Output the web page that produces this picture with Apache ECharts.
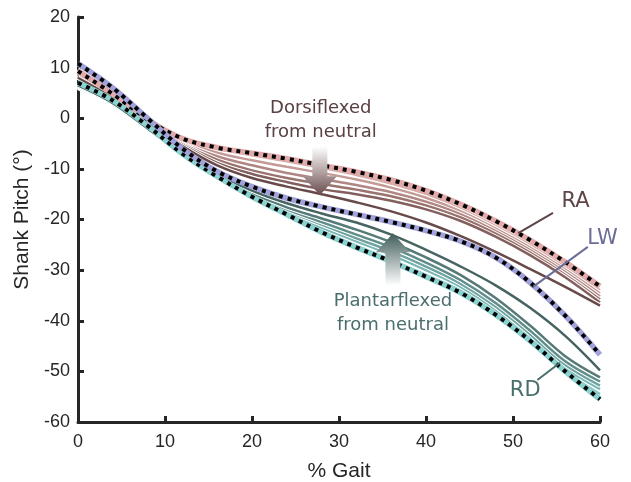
<!DOCTYPE html>
<html>
<head>
<meta charset="utf-8">
<script src="https://cdn.jsdelivr.net/npm/echarts@6/dist/echarts.min.js"></script>
<style>
  html, body { margin: 0; padding: 0; background: #fff; }
  #chart { width: 631px; height: 482px; }
</style>
</head>
<body>
<div id="chart"></div>
<script>
// % gait samples
var gait = [0, 4, 8, 12, 16, 20, 24, 28, 32, 36, 40, 44, 48, 52, 56, 60];

// mean curves (dotted)
var raMean = [9.3, 4.8, -0.3, -4.0, -5.8, -6.9, -8.0, -9.3, -10.6, -12.2, -14.3, -17.0, -20.3, -24.1, -28.4, -33.2];
var lwMean = [10.8, 6.0, 0.0, -6.0, -10.5, -13.5, -15.8, -17.5, -19.0, -20.5, -22.2, -24.3, -27.5, -32.5, -39.0, -46.7];
var rdMean = [7.0, 3.5, -1.5, -7.0, -11.5, -15.5, -19.0, -22.5, -25.5, -28.3, -31.3, -34.5, -38.8, -44.0, -50.0, -55.5];

// ramp ascent trials (light -> dark)
var ra1 = [9.6, 5.0, -0.4, -4.2, -6.0, -7.3, -8.5, -9.8, -11.2, -12.9, -15.0, -17.9, -21.3, -25.1, -29.4, -34.0];
var ra2 = [9.2, 4.8, -0.5, -4.5, -6.8, -8.3, -9.6, -10.8, -12.1, -13.7, -15.7, -18.4, -21.8, -25.6, -29.9, -34.6];
var ra3 = [8.9, 4.6, -0.6, -4.8, -7.5, -9.3, -10.8, -12.0, -13.2, -14.6, -16.5, -19.0, -22.3, -26.1, -30.4, -35.2];
var ra4 = [8.6, 4.4, -0.7, -5.0, -8.2, -10.3, -11.8, -13.0, -14.1, -15.4, -17.2, -19.6, -22.8, -26.6, -30.9, -35.8];
var ra5 = [8.3, 4.2, -0.8, -5.2, -8.8, -11.0, -12.6, -14.0, -15.0, -16.3, -18.0, -20.3, -23.4, -27.1, -31.4, -36.4];
var ra6 = [8.0, 4.0, -0.9, -5.5, -9.3, -11.8, -13.5, -15.0, -16.6, -18.4, -20.6, -23.3, -26.4, -29.8, -33.3, -37.0];

// ramp descent trials (dark -> light)
var rd1 = [6.5, 3.0, -2.0, -7.0, -11.0, -14.3, -16.8, -18.8, -20.6, -23.0, -26.0, -29.3, -33.0, -37.5, -43.0, -49.8];
var rd2 = [6.8, 3.2, -2.0, -7.2, -11.3, -14.8, -17.6, -19.8, -22.0, -24.5, -27.5, -31.0, -35.5, -41.0, -47.0, -51.2];
var rd3 = [6.3, 2.9, -2.1, -7.3, -11.4, -15.0, -18.0, -20.5, -23.0, -25.5, -28.5, -32.0, -36.5, -42.0, -48.0, -52.0];
var rd4 = [6.6, 3.1, -2.1, -7.4, -11.5, -15.2, -18.3, -21.0, -23.7, -26.3, -29.3, -32.7, -37.2, -42.7, -48.7, -52.8];
var rd5 = [6.2, 2.8, -2.2, -7.5, -11.6, -15.3, -18.6, -21.6, -24.3, -27.0, -30.0, -33.3, -37.8, -43.3, -49.3, -53.5];
var rd6 = [6.0, 2.7, -2.3, -7.6, -11.8, -15.5, -18.9, -22.2, -25.2, -28.0, -31.0, -34.0, -38.6, -43.8, -49.8, -54.5];

var yTicks = [-60, -50, -40, -30, -20, -10, 0, 10, 20];

// leader lines for the labels
var raLeader = [[50.6, -22.7], [54.6, -18.7]];
var lwLeader = [[52.3, -33.3], [58.6, -25.4]];
var rdLeader = [[52.8, -51.7], [55.4, -48.3]];

var raColors = ['#d7aaa6', '#c49a96', '#b08784', '#9a736f', '#83605d', '#694a4a'];
var rdColors = ['#466462', '#567a78', '#5f8d8a', '#6ea3a0', '#7ab6b3', '#8cc8c5'];

var chart = echarts.init(document.getElementById('chart'));

function pairs(ys) {
    return gait.map(function (x, i) { return [x, ys[i]]; });
}

var series = [];

function solid(ys, color) {
    series.push({
        type: 'line', data: pairs(ys), smooth: 0.35, symbol: 'none', silent: true,
        lineStyle: { color: '#ffffff', width: 4.5 }
    });
    series.push({
        type: 'line', data: pairs(ys), smooth: 0.35, symbol: 'none', silent: true,
        lineStyle: { color: color, width: 2.5 }
    });
}

function dotted(ys, color) {
    series.push({
        type: 'line', data: pairs(ys), smooth: 0.35, symbol: 'none', silent: true,
        lineStyle: { color: color, width: 5.5 }
    });
    series.push({
        type: 'line', data: pairs(ys), smooth: 0.35, symbol: 'none', silent: true,
        lineStyle: { color: '#000000', width: 4, type: [4, 5], cap: 'butt' }
    });
}

function leader(pts, color) {
    series.push({
        type: 'line', data: pts, symbol: 'none', silent: true,
        lineStyle: { color: color, width: 2 }
    });
}

[ra1, ra2, ra3, ra4, ra5, ra6].forEach(function (d, i) { solid(d, raColors[i]); });
[rd6, rd5, rd4, rd3, rd2, rd1].forEach(function (d, i) { solid(d, rdColors[5 - i]); });
dotted(raMean, '#e2aaaa');
dotted(rdMean, '#8ad2d0');
dotted(lwMean, '#a2a2da');
leader(raLeader, '#5e4444');
leader(lwLeader, '#6c6c98');
leader(rdLeader, '#4a6e6c');

var sans = '"Liberation Sans", Arial, sans-serif';
var tickFont = { color: '#262626', fontSize: 18, fontFamily: sans };
var nameFont = { color: '#262626', fontSize: 21, fontFamily: sans };

chart.setOption({
    animation: false,
    grid: { left: 78, right: 31, top: 17, bottom: 60, containLabel: false, outerBoundsMode: 'none' },
    xAxis: {
        type: 'value', min: 0, max: 60, interval: 10,
        name: '% Gait', nameLocation: 'middle', nameGap: 39,
        nameTextStyle: nameFont,
        axisLine: { onZero: false, lineStyle: { color: '#262626', width: 3 } },
        axisTick: { inside: true, length: 6, lineStyle: { color: '#262626', width: 3 } },
        axisLabel: Object.assign({ margin: 11 }, tickFont),
        splitLine: { show: false }
    },
    yAxis: {
        type: 'value', min: yTicks[0], max: yTicks[yTicks.length - 1], interval: 10,
        name: 'Shank Pitch (°)', nameLocation: 'middle', nameGap: 44,
        nameTextStyle: nameFont,
        axisLine: { show: true, onZero: false, lineStyle: { color: '#262626', width: 3 } },
        axisTick: { show: true, inside: true, length: 6, lineStyle: { color: '#262626', width: 3 } },
        axisLabel: Object.assign({ margin: 8 }, tickFont),
        splitLine: { show: false }
    },
    series: series
});

// annotations placed in data coordinates
function px(x, y) { return chart.convertToPixel({ gridIndex: 0 }, [x, y]); }

function text(x, y, str, color, size) {
    var p = px(x, y);
    return {
        type: 'text', x: p[0], y: p[1], silent: true, z: 100,
        style: {
            text: str, fill: color, fontSize: size, fontFamily: '"DejaVu Sans", Verdana, sans-serif',
            align: 'center', verticalAlign: 'middle', lineHeight: 24
        }
    };
}

function arrow(x, yTail, yHead, headLen, shaftW, headW, colTail, colHead) {
    var t = px(x, yTail), h = px(x, yHead);
    var dir = h[1] > t[1] ? 1 : -1;
    var cx = t[0], hb = h[1] - dir * headLen;
    var pts = [
        [cx - shaftW / 2, t[1]], [cx + shaftW / 2, t[1]],
        [cx + shaftW / 2, hb], [cx + headW / 2, hb],
        [cx, h[1]],
        [cx - headW / 2, hb], [cx - shaftW / 2, hb]
    ];
    var top = dir > 0 ? colTail : colHead, bot = dir > 0 ? colHead : colTail;
    return {
        type: 'polygon', silent: true, z: 90,
        shape: { points: pts },
        style: {
            fill: new echarts.graphic.LinearGradient(0, 0, 0, 1, [
                { offset: 0, color: top }, { offset: 1, color: bot }
            ])
        }
    };
}

chart.setOption({
    graphic: [
        text(27.9, -0.4, 'Dorsiflexed\nfrom neutral', '#5a4040', 18),
        arrow(27.8, -5.6, -15.2, 19, 15, 34, '#ffffff', '#6a4c4c'),
        text(36.2, -38.5, 'Plantarflexed\nfrom neutral', '#4a6e6c', 18),
        arrow(36.2, -33.0, -22.7, 19, 15, 34, '#ffffff', '#3f5c5a'),
        text(57.2, -16.4, 'RA', '#5e4444', 21),
        text(60.3, -23.8, 'LW', '#6c6c98', 21),
        text(51.4, -53.8, 'RD', '#4a6e6c', 21)
    ]
});
</script>
</body>
</html>
